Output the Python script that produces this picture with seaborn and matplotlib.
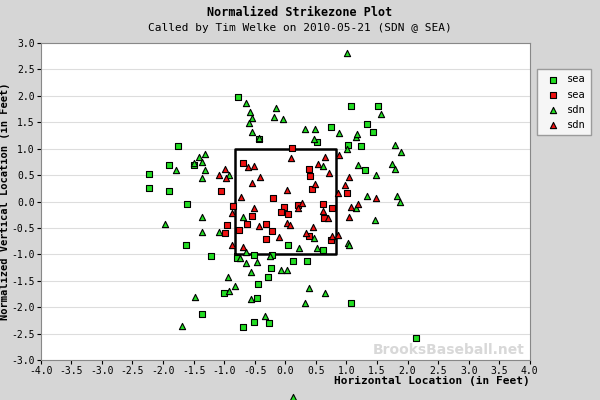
import matplotlib
matplotlib.use("Agg")
import matplotlib.pyplot as plt
import seaborn as sns
import pandas as pd

# -----------------------------
# Data (feet)
# -----------------------------
SEA_BALL_X = [-0.77, -1.75, -1.90, -2.23, -2.23, -1.91, -1.49, -0.43, 0.52, 0.75, 1.08, 1.51,
              1.34, 1.44, 1.03, 1.24, 1.31, -1.60, -1.62, -1.21, -0.79, -0.52, -0.21, 0.05,
              0.13, -0.23, -0.29, -0.44, -1.01, -0.46, -1.37, -0.70, -0.51, -0.26, 0.62, 0.36,
              1.08, 2.14]
SEA_BALL_Y = [1.98, 1.05, 0.69, 0.52, 0.26, 0.20, 0.69, 1.18, 1.13, 1.41, 1.81, 1.81,
              1.47, 1.32, 1.07, 1.05, 0.60, -0.05, -0.82, -1.03, -1.07, -1.01, -1.01, -0.82,
              -1.13, -1.26, -1.43, -1.56, -1.73, -1.83, -2.13, -2.38, -2.28, -2.30, -0.92, -1.13,
              -1.92, -2.59]

SEA_STRIKE_X = [-0.70, -1.05, -0.20, 0.11, 0.38, 0.41, 0.43, 1.01, -0.85, -0.02, -0.07, 0.05,
                0.20, -0.54, -0.95, -0.62, -0.31, -0.75, -0.98, -0.21, -0.31, 0.62, 0.77, 0.64,
                0.39, 0.75]
SEA_STRIKE_Y = [0.73, 0.20, 0.07, 1.01, 0.61, 0.48, 0.24, 0.16, -0.08, -0.10, -0.20, -0.24,
                -0.07, -0.28, -0.45, -0.43, -0.43, -0.54, -0.60, -0.56, -0.71, -0.05, -0.12, -0.31,
                -0.65, -0.73]

SDN_BALL_X = [-0.65, -0.57, -0.54, -0.59, -0.54, -0.16, -0.18, -0.03, -0.43, -1.42, -1.31, -1.49,
              -1.37, -1.78, -1.31, -1.37, -0.92, 1.01, 1.57, 0.33, 0.49, 0.88, 1.15, 1.18,
              0.47, 1.01, 1.80, 1.90, 0.62, 1.19, 1.75, 1.80, 1.49, 1.33, 1.82, 1.88,
              1.15, 1.46, 1.03, 1.05, 0.47, 0.23, 0.52, 0.39, 0.65, 0.33, 0.02, -0.07,
              -1.96, -1.36, -1.36, -1.08, -0.70, -0.65, -0.74, -0.64, -0.46, -0.56, -0.93, -0.82,
              -0.92, -1.47, -0.56, -0.33, -1.69, -0.25, 0.13]
SDN_BALL_Y = [1.86, 1.69, 1.58, 1.49, 1.32, 1.77, 1.60, 1.56, 1.20, 0.84, 0.90, 0.73,
              0.75, 0.60, 0.60, 0.45, 0.50, 2.81, 1.66, 1.37, 1.37, 1.30, 1.22, 1.28,
              1.18, 0.99, 1.07, 0.94, 0.67, 0.69, 0.71, 0.62, 0.50, 0.10, 0.10, -0.01,
              -0.12, -0.35, -0.79, -0.83, -0.69, -0.88, -0.88, -1.64, -1.73, -1.92, -1.30, -1.30,
              -0.43, -0.29, -0.58, -0.58, -0.29, -0.96, -1.07, -1.16, -1.15, -1.34, -1.43, -1.60,
              -1.70, -1.81, -1.85, -2.17, -2.36, -1.03, -3.70]

SDN_STRIKE_X = [-1.08, -0.98, -0.97, -0.61, -0.51, -0.41, -0.54, 0.10, 0.03, -0.72, 0.65, 0.54,
                0.72, 0.88, 1.05, 0.97, 0.49, 0.87, 1.49, -0.51, -0.88, -0.43, 0.02, 0.07,
                -0.10, -0.88, -0.70, 0.28, 0.20, 0.61, 0.70, 1.08, 1.19, 1.05, 0.46, 0.34,
                0.77, 0.87]
SDN_STRIKE_Y = [0.50, 0.62, 0.45, 0.65, 0.67, 0.46, 0.35, 0.82, 0.22, 0.09, 0.84, 0.71,
                0.54, 0.88, 0.46, 0.31, 0.33, 0.16, 0.07, -0.12, -0.22, -0.46, -0.41, -0.45,
                -0.67, -0.82, -0.86, -0.03, -0.12, -0.18, -0.31, -0.10, -0.05, -0.29, -0.48, -0.60,
                -0.65, -0.63]

ZONE_X = [-0.83, 0.83]
ZONE_Y = [-1.0, 1.0]
X_TICKS = [i * 0.5 for i in range(-8, 9)]
Y_TICKS = [i * 0.5 for i in range(-6, 7)]

MONO = "DejaVu Sans Mono"
GREEN = "#22dd22"
RED = "#ee1111"


def main():
    fig = plt.figure(figsize=(6, 4), dpi=100, facecolor="#d6d6d6")
    ax = fig.add_axes([0.068, 0.10, 0.815, 0.7925])
    ax.set_facecolor("white")

    groups = [
        ("sea", SEA_BALL_X, SEA_BALL_Y, GREEN, "s"),
        ("sea", SEA_STRIKE_X, SEA_STRIKE_Y, RED, "s"),
        ("sdn", SDN_BALL_X, SDN_BALL_Y, GREEN, "^"),
        ("sdn", SDN_STRIKE_X, SDN_STRIKE_Y, RED, "^"),
    ]
    for label, xs, ys, color, marker in groups:
        df = pd.DataFrame({"x": xs, "y": ys})
        sns.scatterplot(data=df, x="x", y="y", ax=ax, color=color, marker=marker,
                        s=20, edgecolor="black", linewidth=0.8, label=label,
                        clip_on=False, zorder=3)

    ax.plot([ZONE_X[0], ZONE_X[1], ZONE_X[1], ZONE_X[0], ZONE_X[0]],
            [ZONE_Y[0], ZONE_Y[0], ZONE_Y[1], ZONE_Y[1], ZONE_Y[0]],
            color="black", linewidth=1.8, zorder=2)

    ax.set_xlim(-4, 4)
    ax.set_ylim(-3, 3)
    ax.set_xticks(X_TICKS)
    ax.set_yticks(Y_TICKS)
    ax.set_xticklabels([f"{v:.1f}" for v in X_TICKS], fontfamily=MONO, fontsize=7)
    ax.set_yticklabels([f"{v:.1f}" for v in Y_TICKS], fontfamily=MONO, fontsize=7)
    ax.grid(axis="y", color="#dddddd", linewidth=0.8)
    ax.set_axisbelow(True)
    for s in ax.spines.values():
        s.set_color("#888888")
    ax.tick_params(length=3, pad=1.5)

    ax.set_xlabel("Horizontal Location (in Feet)", fontfamily=MONO, fontweight="bold",
                  fontsize=8, loc="right", labelpad=0)
    ax.set_ylabel("Normalized Vertical Location (in Feet)", fontfamily=MONO,
                  fontweight="bold", fontsize=7.5, labelpad=0)
    ax.yaxis.set_label_coords(-0.062, 0.5)

    fig.text(0.5, 0.968, "Normalized Strikezone Plot", ha="center", va="center",
             fontfamily=MONO, fontweight="bold", fontsize=8.5)
    fig.text(0.5, 0.93, "Called by Tim Welke on 2010-05-21 (SDN @ SEA)", ha="center",
             va="center", fontfamily=MONO, fontsize=8)
    ax.text(0.99, 0.01, "BrooksBaseball.net", transform=ax.transAxes, ha="right",
            va="bottom", fontsize=10, fontweight="bold", color="#d8d8d8", zorder=1)

    ax.legend_.remove()
    handles, labels = ax.get_legend_handles_labels()
    leg = fig.legend(handles, labels, loc="upper left", bbox_to_anchor=(0.887, 0.84),
                     prop={"family": MONO, "size": 7.5}, frameon=True, fancybox=False,
                     handletextpad=0.3, borderpad=0.5, labelspacing=0.5)
    leg.get_frame().set_edgecolor("#888888")

    fig.savefig("out.png", dpi=100, facecolor=fig.get_facecolor())
    plt.close(fig)


if __name__ == "__main__":
    main()
